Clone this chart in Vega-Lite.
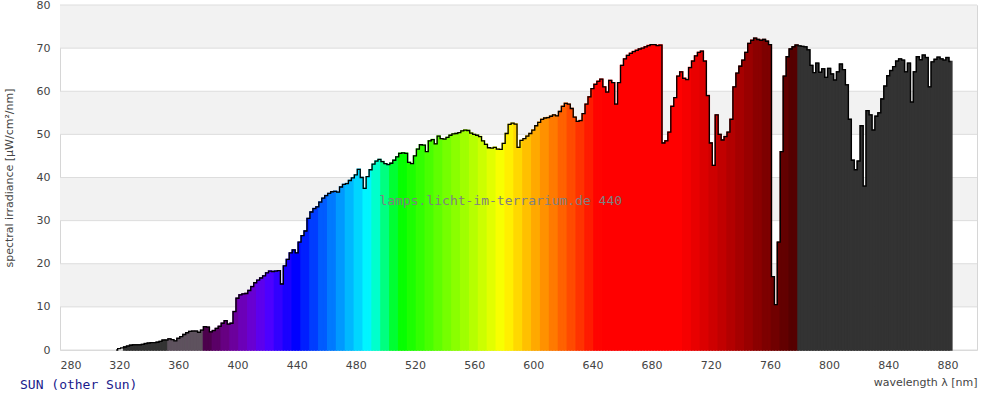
{
  "$schema": "https://vega.github.io/schema/vega-lite/v6.json",
  "width": 917,
  "height": 345,
  "autosize": {"type": "none"},
  "padding": {"left": 60, "top": 5, "right": 23, "bottom": 50},
  "background": "white",
  "config": {
    "view": {"stroke": "#d6d6d6"},
    "font": "DejaVu Sans",
    "axis": {"labelFont": "DejaVu Sans", "titleFont": "DejaVu Sans", "labelFontSize": 11, "titleFontSize": 11, "labelColor": "#444444", "titleColor": "#444444", "titleFontWeight": "normal", "grid": false, "ticks": false, "domain": false, "labelOverlap": false}
  },
  "title": {"text": "SUN (other Sun)", "orient": "bottom", "anchor": "start", "frame": "group", "font": "DejaVu Sans Mono", "fontSize": 13, "fontWeight": "normal", "color": "#1a1a8c", "dx": -40, "offset": -8},
  "datasets": {
    "spec": [
      {"wl":318,"v":0},{"wl":320,"v":0.3},{"wl":322,"v":0.5},{"wl":324,"v":0.7},{"wl":326,"v":0.9},{"wl":328,"v":1.1},{"wl":330,"v":1.2},{"wl":332,"v":1.2},{"wl":334,"v":1.2},{"wl":336,"v":1.3},{"wl":338,"v":1.5},{"wl":340,"v":1.6},{"wl":342,"v":1.7},{"wl":344,"v":1.7},{"wl":346,"v":1.8},{"wl":348,"v":2.0},{"wl":350,"v":2.3},{"wl":352,"v":2.3},{"wl":354,"v":2.6},{"wl":356,"v":2.4},{"wl":358,"v":2.1},{"wl":360,"v":2.7},{"wl":362,"v":3.1},{"wl":364,"v":3.6},{"wl":366,"v":4.0},{"wl":368,"v":4.3},{"wl":370,"v":4.4},{"wl":372,"v":4.4},{"wl":374,"v":4.1},{"wl":376,"v":4.6},{"wl":378,"v":5.4},{"wl":380,"v":5.3},{"wl":382,"v":4.2},{"wl":384,"v":4.5},{"wl":386,"v":5.0},{"wl":388,"v":5.5},{"wl":390,"v":6.2},{"wl":392,"v":6.8},{"wl":394,"v":6.0},{"wl":396,"v":6.2},{"wl":398,"v":8.9},{"wl":400,"v":12.0},
      {"wl":402,"v":12.8},{"wl":404,"v":13.0},{"wl":406,"v":13.1},{"wl":408,"v":13.8},{"wl":410,"v":14.7},{"wl":412,"v":15.6},{"wl":414,"v":16.2},{"wl":416,"v":16.7},{"wl":418,"v":17.2},{"wl":420,"v":17.9},{"wl":422,"v":18.3},{"wl":424,"v":18.2},{"wl":426,"v":18.3},{"wl":428,"v":18.4},{"wl":430,"v":15.3},{"wl":432,"v":19.5},{"wl":434,"v":21.0},{"wl":436,"v":22.5},{"wl":438,"v":23.2},{"wl":440,"v":22.5},{"wl":442,"v":25.0},{"wl":444,"v":26.5},{"wl":446,"v":27.6},{"wl":448,"v":30.5},{"wl":450,"v":32.0},
      {"wl":452,"v":32.8},{"wl":454,"v":33.2},{"wl":456,"v":34.3},{"wl":458,"v":35.2},{"wl":460,"v":35.8},{"wl":462,"v":36.3},{"wl":464,"v":36.7},{"wl":466,"v":36.8},{"wl":468,"v":36.6},{"wl":470,"v":37.8},{"wl":472,"v":38.4},{"wl":474,"v":38.6},{"wl":476,"v":39.3},{"wl":478,"v":39.9},{"wl":480,"v":40.6},{"wl":482,"v":41.9},{"wl":484,"v":40.0},{"wl":486,"v":37.5},{"wl":488,"v":40.2},{"wl":490,"v":41.8},{"wl":492,"v":43.1},{"wl":494,"v":43.8},{"wl":496,"v":44.2},{"wl":498,"v":43.7},{"wl":500,"v":43.2},
      {"wl":502,"v":43.0},{"wl":504,"v":43.3},{"wl":506,"v":44.0},{"wl":508,"v":44.8},{"wl":510,"v":45.6},{"wl":512,"v":45.7},{"wl":514,"v":45.6},{"wl":516,"v":43.5},{"wl":518,"v":43.2},{"wl":520,"v":45.0},{"wl":522,"v":46.6},{"wl":524,"v":47.6},{"wl":526,"v":47.5},{"wl":528,"v":46.0},{"wl":530,"v":48.5},{"wl":532,"v":48.8},{"wl":534,"v":47.8},{"wl":536,"v":49.6},{"wl":538,"v":49.0},{"wl":540,"v":48.9},{"wl":542,"v":49.3},{"wl":544,"v":49.8},{"wl":546,"v":50.1},{"wl":548,"v":50.2},{"wl":550,"v":50.4},
      {"wl":552,"v":50.8},{"wl":554,"v":51.0},{"wl":556,"v":50.9},{"wl":558,"v":50.3},{"wl":560,"v":50.0},{"wl":562,"v":49.8},{"wl":564,"v":49.5},{"wl":566,"v":48.5},{"wl":568,"v":47.7},{"wl":570,"v":46.9},{"wl":572,"v":46.8},{"wl":574,"v":47.0},{"wl":576,"v":46.6},{"wl":578,"v":46.5},{"wl":580,"v":47.9},{"wl":582,"v":50.2},{"wl":584,"v":52.3},{"wl":586,"v":52.6},{"wl":588,"v":52.4},{"wl":590,"v":47.0},{"wl":592,"v":48.6},{"wl":594,"v":49.0},{"wl":596,"v":49.6},{"wl":598,"v":50.2},{"wl":600,"v":51.0},
      {"wl":602,"v":52.0},{"wl":604,"v":52.8},{"wl":606,"v":53.5},{"wl":608,"v":53.8},{"wl":610,"v":53.9},{"wl":612,"v":54.2},{"wl":614,"v":54.5},{"wl":616,"v":54.3},{"wl":618,"v":55.3},{"wl":620,"v":56.5},{"wl":622,"v":57.2},{"wl":624,"v":57.0},{"wl":626,"v":56.0},{"wl":628,"v":54.0},{"wl":630,"v":53.0},{"wl":632,"v":53.2},{"wl":634,"v":54.8},{"wl":636,"v":57.0},{"wl":638,"v":58.7},{"wl":640,"v":60.6},{"wl":642,"v":61.6},{"wl":644,"v":62.3},{"wl":646,"v":62.8},{"wl":648,"v":61.0},{"wl":650,"v":59.8},
      {"wl":652,"v":62.5},{"wl":654,"v":62.0},{"wl":656,"v":57.0},{"wl":658,"v":62.0},{"wl":660,"v":66.0},{"wl":662,"v":67.5},{"wl":664,"v":68.3},{"wl":666,"v":68.8},{"wl":668,"v":69.2},{"wl":670,"v":69.5},{"wl":672,"v":69.8},{"wl":674,"v":70.0},{"wl":676,"v":70.3},{"wl":678,"v":70.6},{"wl":680,"v":70.8},{"wl":682,"v":70.8},{"wl":684,"v":70.6},{"wl":686,"v":70.7},{"wl":688,"v":48.0},{"wl":690,"v":48.5},{"wl":692,"v":50.5},{"wl":694,"v":56.5},{"wl":696,"v":58.5},{"wl":698,"v":63.5},{"wl":700,"v":64.5},
      {"wl":702,"v":63.0},{"wl":704,"v":62.7},{"wl":706,"v":65.5},{"wl":708,"v":67.0},{"wl":710,"v":68.2},{"wl":712,"v":69.0},{"wl":714,"v":69.3},{"wl":716,"v":67.0},{"wl":718,"v":59.0},{"wl":720,"v":48.0},{"wl":722,"v":42.8},{"wl":724,"v":54.5},{"wl":726,"v":50.0},{"wl":728,"v":48.7},{"wl":730,"v":49.5},{"wl":732,"v":50.5},{"wl":734,"v":53.5},{"wl":736,"v":61.0},{"wl":738,"v":64.2},{"wl":740,"v":65.8},{"wl":742,"v":67.2},{"wl":744,"v":69.0},{"wl":746,"v":71.1},{"wl":748,"v":71.8},{"wl":750,"v":72.3},
      {"wl":752,"v":72.0},{"wl":754,"v":71.8},{"wl":756,"v":72.0},{"wl":758,"v":71.6},{"wl":760,"v":70.8},{"wl":762,"v":17.0},{"wl":764,"v":10.5},{"wl":766,"v":25.0},{"wl":768,"v":46.0},{"wl":770,"v":63.5},{"wl":772,"v":68.0},{"wl":774,"v":69.8},{"wl":776,"v":70.3},{"wl":778,"v":70.7},{"wl":780,"v":70.5},{"wl":782,"v":70.4},{"wl":784,"v":70.3},{"wl":786,"v":69.6},{"wl":788,"v":66.0},{"wl":790,"v":64.3},{"wl":792,"v":66.5},{"wl":794,"v":64.4},{"wl":796,"v":65.2},{"wl":798,"v":63.2},{"wl":800,"v":65.3},
      {"wl":802,"v":64.0},{"wl":804,"v":62.6},{"wl":806,"v":64.5},{"wl":808,"v":66.3},{"wl":810,"v":65.0},{"wl":812,"v":61.5},{"wl":814,"v":53.5},{"wl":816,"v":44.0},{"wl":818,"v":41.8},{"wl":820,"v":43.8},{"wl":822,"v":52.0},{"wl":824,"v":38.0},{"wl":826,"v":55.5},{"wl":828,"v":54.5},{"wl":830,"v":51.0},{"wl":832,"v":54.2},{"wl":834,"v":55.0},{"wl":836,"v":58.2},{"wl":838,"v":61.2},{"wl":840,"v":63.6},{"wl":842,"v":64.8},{"wl":844,"v":65.7},{"wl":846,"v":67.0},{"wl":848,"v":67.5},{"wl":850,"v":67.2},
      {"wl":852,"v":64.5},{"wl":854,"v":66.5},{"wl":856,"v":57.5},{"wl":858,"v":64.5},{"wl":860,"v":68.0},{"wl":862,"v":67.3},{"wl":864,"v":68.4},{"wl":866,"v":67.8},{"wl":868,"v":61.0},{"wl":870,"v":66.8},{"wl":872,"v":67.4},{"wl":874,"v":67.9},{"wl":876,"v":67.5},{"wl":878,"v":67.2},{"wl":880,"v":67.8},{"wl":882,"v":66.9}
    ]
  },
  "layer": [
    {
      "data": {"values": [{"lo": 10, "hi": 20}, {"lo": 30, "hi": 40}, {"lo": 50, "hi": 60}, {"lo": 70, "hi": 80}]},
      "mark": {"type": "rect", "color": "#f2f2f2"},
      "encoding": {
        "y": {"field": "lo", "type": "quantitative", "scale": {"domain": [0, 80]}, "title": "spectral irradiance [µW/cm²/nm]",
              "axis": {"values": [0,10,20,30,40,50,60,70,80], "labelPadding": 10, "titlePadding": 22}},
        "y2": {"field": "hi"}
      }
    },
    {
      "data": {"values": [{"g": 0}, {"g": 10}, {"g": 20}, {"g": 30}, {"g": 40}, {"g": 50}, {"g": 60}, {"g": 70}, {"g": 80}]},
      "mark": {"type": "rule", "color": "#dddddd", "strokeWidth": 1},
      "encoding": {
        "y": {"field": "g", "type": "quantitative", "title": "spectral irradiance [µW/cm²/nm]",
              "axis": {"values": [0,10,20,30,40,50,60,70,80], "labelPadding": 10, "titlePadding": 22}}
      }
    },
    {
      "data": {"name": "spec"},
      "transform": [
        {"bin": {"step": 2, "anchor": 1}, "field": "wl", "as": ["w0", "w1"]},
        {"bin": {"step": 6, "anchor": 377}, "field": "wl", "as": ["c0", "c1"]}
      ],
      "mark": {"type": "rect", "strokeWidth": 1.5, "strokeJoin": "miter"},
      "encoding": {
        "x": {"field": "w0", "type": "quantitative", "scale": {"domain": [280, 900], "nice": false, "zero": false},
              "axis": {"values": [280,300,320,340,360,380,400,420,440,460,480,500,520,540,560,580,600,620,640,660,680,700,720,740,760,780,800,820,840,860,880,900], "labelPadding": 9, "title": "wavelength λ [nm]", "titleAnchor": "end", "titlePadding": 6, "labelOverlap": false}},
        "x2": {"field": "w1"},
        "y": {"field": "v", "type": "quantitative", "title": "spectral irradiance [µW/cm²/nm]",
              "axis": {"values": [0,10,20,30,40,50,60,70,80], "labelPadding": 10, "titlePadding": 22}},
        "y2": {"datum": 0},
        "color": {"field": "c0", "type": "quantitative", "legend": null,
                  "scale": {"type": "linear", "interpolate": "rgb",
                            "domain": [300, 352.9, 353, 376.9, 377, 387, 397, 407, 417, 437, 487, 507, 577, 642, 697, 777, 778.9, 779, 900],
                            "range": ["#333333", "#333333", "#5e525e", "#5e525e", "rgb(77,0,77)", "rgb(101,0,121)", "rgb(110,0,166)", "rgb(105,0,210)", "rgb(85,0,255)", "rgb(0,0,255)", "rgb(0,255,255)", "rgb(0,255,0)", "rgb(255,255,0)", "rgb(255,0,0)", "rgb(255,0,0)", "rgb(77,0,0)", "rgb(77,0,0)", "#333333", "#333333"]}},
        "stroke": {"field": "c0", "type": "quantitative", "legend": null,
                  "scale": {"type": "linear", "interpolate": "rgb",
                            "domain": [300, 352.9, 353, 376.9, 377, 387, 397, 407, 417, 437, 487, 507, 577, 642, 697, 777, 778.9, 779, 900],
                            "range": ["#333333", "#333333", "#5e525e", "#5e525e", "rgb(77,0,77)", "rgb(101,0,121)", "rgb(110,0,166)", "rgb(105,0,210)", "rgb(85,0,255)", "rgb(0,0,255)", "rgb(0,255,255)", "rgb(0,255,0)", "rgb(255,255,0)", "rgb(255,0,0)", "rgb(255,0,0)", "rgb(77,0,0)", "rgb(77,0,0)", "#333333", "#333333"]}}
      }
    },
    {
      "data": {"name": "spec"},
      "mark": {"type": "line", "interpolate": "step", "color": "#000000", "strokeWidth": 1.3},
      "encoding": {
        "x": {"field": "wl", "type": "quantitative", "title": "wavelength λ [nm]",
              "axis": {"values": [280,300,320,340,360,380,400,420,440,460,480,500,520,540,560,580,600,620,640,660,680,700,720,740,760,780,800,820,840,860,880,900], "labelPadding": 9, "title": "wavelength λ [nm]", "titleAnchor": "end", "titlePadding": 6, "labelOverlap": false}},
        "y": {"field": "v", "type": "quantitative", "title": "spectral irradiance [µW/cm²/nm]",
              "axis": {"values": [0,10,20,30,40,50,60,70,80], "labelPadding": 10, "titlePadding": 22}}
      }
    },
    {
      "data": {"values": [{"label": "lamps.licht-im-terrarium.de 440"}]},
      "mark": {"type": "text", "font": "DejaVu Sans Mono", "fontSize": 13, "color": "#808080", "align": "center", "baseline": "middle"},
      "encoding": {
        "text": {"field": "label"},
        "x": {"datum": 578, "type": "quantitative"},
        "y": {"datum": 34.5, "type": "quantitative"}
      }
    }
  ]
}
